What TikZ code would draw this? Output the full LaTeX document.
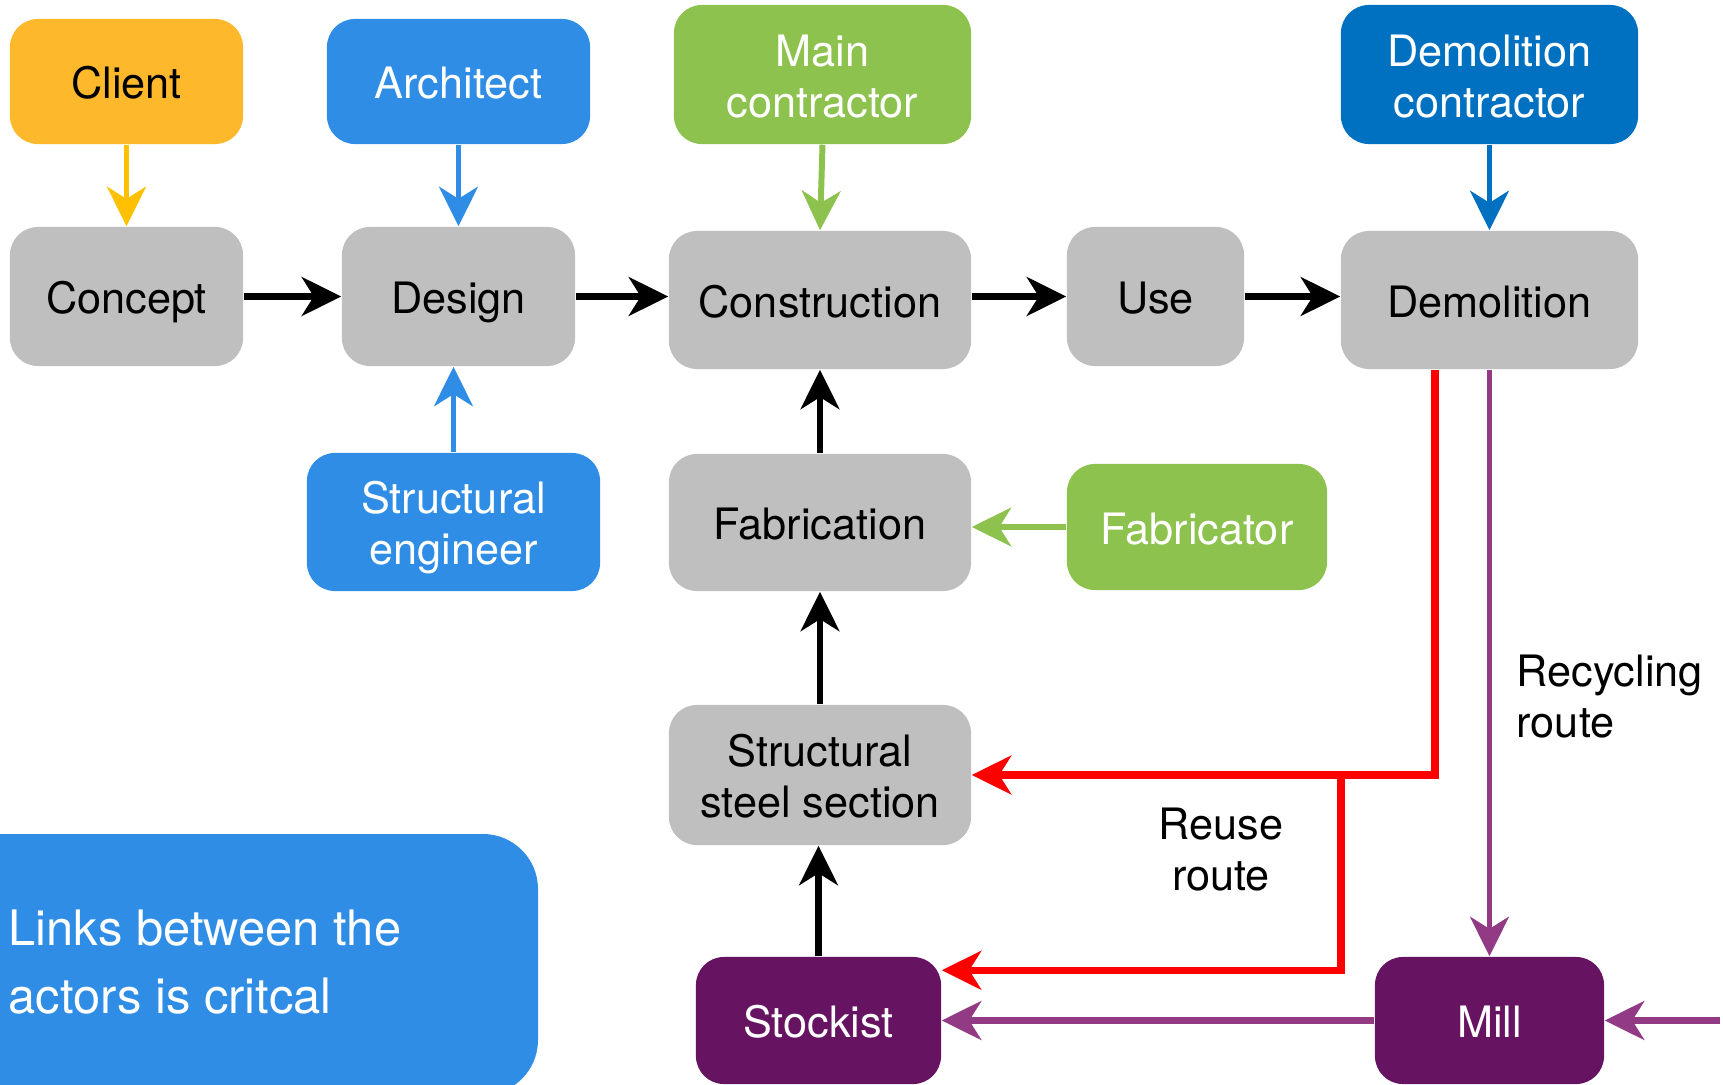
\documentclass[tikz,border=0pt]{standalone}
\usepackage{fontspec}
\setmainfont{TeX Gyre Heros}
\usetikzlibrary{arrows.meta}

\definecolor{clientfill}{HTML}{FDB82B}
\definecolor{clientline}{HTML}{FFC000}
\definecolor{archblue}{HTML}{2F8DE5}
\definecolor{leafgreen}{HTML}{8DC24E}
\definecolor{demoblue}{HTML}{0070C0}
\definecolor{stagegrey}{HTML}{BFBFBF}
\definecolor{plum}{HTML}{661461}
\definecolor{plumline}{HTML}{923A83}
\definecolor{routered}{HTML}{FF0000}

\tikzset{
  head/.tip={Stealth[length=11.2pt, width=11pt, inset=3.4pt]},
  box/.style={rounded corners=0.28cm, inner sep=0pt, align=center,
    font=\fontsize{12.3}{14.5}\selectfont,
    % fixed height and depth keep the baselines at the same place
    % whatever letters a label holds
    execute at begin node={\rule{0pt}{12.5pt}},
    execute at end node={\rule[-2.7pt]{0pt}{0pt}}},
  twolines/.style={execute at begin node={\rule{0pt}{27pt}}},
  stage/.style={box, fill=stagegrey, text=black},
  lbl/.style={inner sep=0pt, font=\fontsize{12.3}{14.5}\selectfont},
  flow/.style={-head, line width=2.2pt, black},
  upflow/.style={-head, line width=1.8pt, black},
  actor/.style={-head, line width=1.7pt},
  reuse/.style={-head, line width=2.1pt, routered},
  recycle/.style={-head, line width=2.2pt, plumline},
}

\begin{document}
\begin{tikzpicture}[x=0.01cm, y=-0.01cm]
\useasboundingbox (0,0) rectangle (1723,1085);

% note panel in the lower left corner, running off the page edges
\begin{scope}
  \clip (0,0) rectangle (1723,1085);
  \fill[archblue, rounded corners=0.55cm] (-60,834) rectangle (538,1095);
\end{scope}
\node[inner sep=0pt, anchor=west, align=left, text=white,
  font=\fontsize{13.9}{19.3}\selectfont] (linksnote) at (8,962)
  {Links between the\\actors is critcal};

% actors
\node[box, fill=clientfill, text=black, minimum width=2.33cm, minimum height=1.25cm] (client) at (126.5,81.5) {Client};
\node[box, fill=archblue, text=white, minimum width=2.63cm, minimum height=1.25cm] (architect) at (458.5,81.5) {Architect};
\node[box, twolines, fill=leafgreen, text=white, minimum width=2.97cm, minimum height=1.39cm] (maincon) at (822.5,74.5) {Main\\contractor};
\node[box, twolines, fill=demoblue, text=white, minimum width=2.97cm, minimum height=1.39cm] (democon) at (1489.5,74.5) {Demolition\\contractor};
\node[box, twolines, fill=archblue, text=white, minimum width=2.93cm, minimum height=1.38cm] (struceng) at (453.5,522) {Structural\\engineer};
\node[box, fill=leafgreen, text=white, minimum width=2.60cm, minimum height=1.26cm] (fabricator) at (1197,527) {Fabricator};
\node[box, fill=plum, text=white, minimum width=2.45cm, minimum height=1.27cm] (stockist) at (818.5,1020.5) {Stockist};
\node[box, fill=plum, text=white, minimum width=2.29cm, minimum height=1.27cm] (mill) at (1489.5,1020.5) {Mill};

% life-cycle stages
\node[stage, minimum width=2.33cm, minimum height=1.39cm] (concept) at (126.5,296.5) {Concept};
\node[stage, minimum width=2.33cm, minimum height=1.39cm] (design) at (458.5,296.5) {Design};
\node[stage, minimum width=3.02cm, minimum height=1.38cm] (construction) at (820,300) {Construction};
\node[stage, minimum width=1.77cm, minimum height=1.39cm] (use) at (1155.5,296.5) {Use};
\node[stage, minimum width=2.97cm, minimum height=1.38cm] (demolition) at (1489.5,300) {Demolition};
\node[stage, minimum width=3.02cm, minimum height=1.37cm] (fabrication) at (820,522.5) {Fabrication};
\node[stage, twolines, minimum width=3.02cm, minimum height=1.40cm] (steel) at (820,775) {Structural\\steel section};

% route labels
\node[lbl, anchor=west, align=left] (recyclabel) at (1516,697) {Recycling\\route};
\node[lbl, align=center] (reuselabel) at (1221,850) {Reuse\\route};

% main stage sequence
\draw[flow] (concept.east) -- (design.west);
\draw[flow] (design.east) -- (design.east -| construction.west);
\draw[flow] (use.west -| construction.east) -- (use.west);
\draw[flow] (use.east) -- (use.east -| demolition.west);

% supply chain feeding construction
\draw[upflow] (fabrication.north) -- (construction.south);
\draw[upflow] (steel.north) -- (fabrication.south);
\draw[upflow] (stockist.north) -- (stockist.north |- steel.south);

% actors acting on stages
\draw[actor, clientline] (client.south) -- (concept.north);
\draw[actor, archblue] (architect.south) -- (design.north);
\draw[actor, leafgreen] (maincon.south) -- (construction.north);
\draw[actor, demoblue] (democon.south) -- (demolition.north);
\draw[actor, archblue] (struceng.north) -- (struceng.north |- design.south);
\draw[actor, leafgreen] (fabricator.west) -- (fabricator.west -| fabrication.east);

% reuse route
\coordinate (reusedrop) at ([xshift=-0.545cm]demolition.south);
\coordinate (reusefork) at (1341,776);
\draw[reuse] (reusedrop) |- (steel.east);
\draw[reuse, line cap=rect] (reusefork) |- ([yshift=-0.14cm]stockist.north east);

% recycling route
\coordinate (millfeed) at (1720,1020.5);
\draw[recycle, line width=1.6pt] (demolition.south) -- (mill.north);
\draw[recycle] (mill.west) -- (stockist.east);
\draw[recycle] (millfeed) -- (mill.east);
\end{tikzpicture}
\end{document}
